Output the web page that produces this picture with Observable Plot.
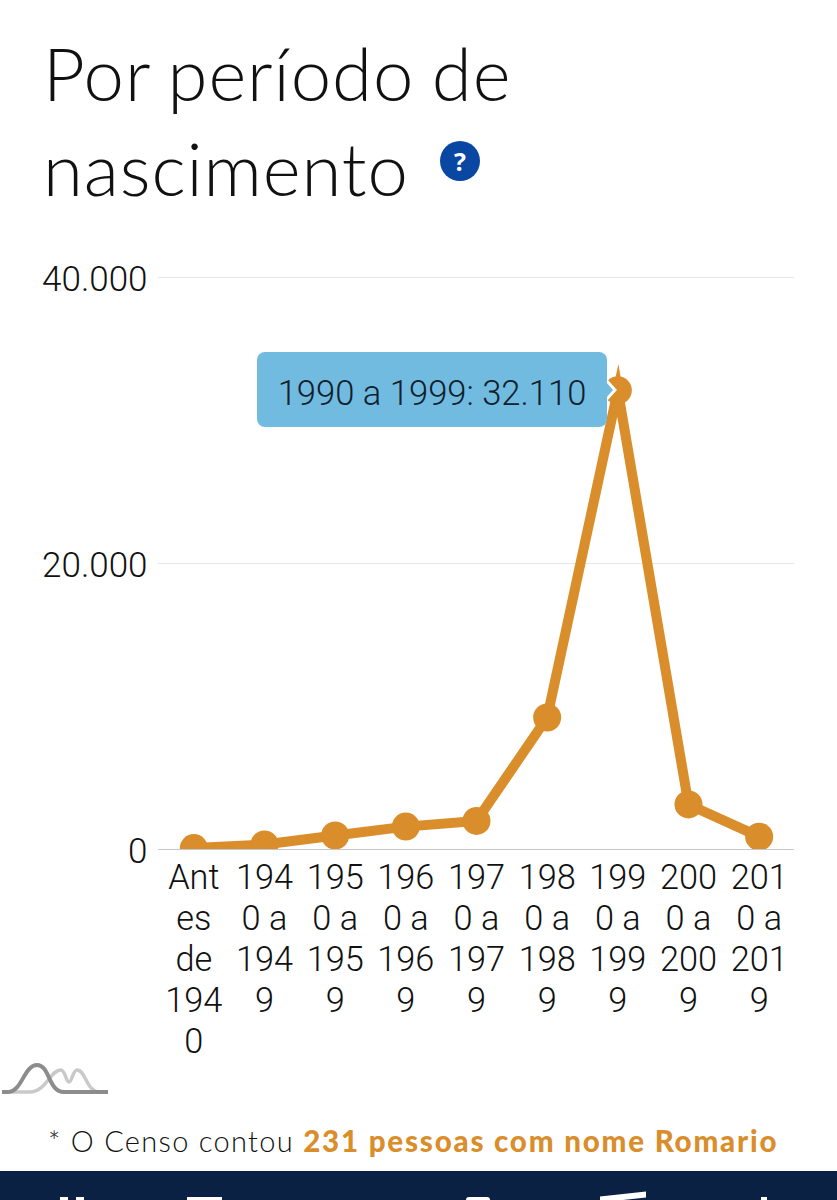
<!DOCTYPE html>
<html lang="pt-BR">
<head>
<meta charset="utf-8">
<script src="https://cdn.jsdelivr.net/npm/d3@7"></script>
<script src="https://cdn.jsdelivr.net/npm/@observablehq/plot@0.6"></script>
<style>
html,body{margin:0;padding:0;background:#fff;}
#page{position:relative;width:837px;height:1200px;overflow:hidden;font-family:Lato,sans-serif;color:#111;}
#title{position:absolute;left:43px;top:25px;margin:0;font-weight:300;font-size:72.5px;line-height:95px;letter-spacing:.9px;word-spacing:-3px;color:#111;white-space:nowrap;}
#help{position:absolute;left:440px;top:141px;width:40px;height:40px;border-radius:50%;background:#0a47a3;color:#fff;font:700 25px/40px "Open Sans",sans-serif;text-align:center;}
#chart{position:absolute;left:0;top:240px;}
#tip{position:absolute;left:257px;top:352px;width:350px;height:75px;border-radius:8px;background:#72bbe0;color:#10202c;font:300 34.6px/82px Roboto,sans-serif;text-align:center;}
#arrow{position:absolute;left:607px;top:379px;width:0;height:0;border-left:10px solid #fff;border-top:11px solid transparent;border-bottom:11px solid transparent;}
#arrow2{position:absolute;left:606px;top:382px;width:0;height:0;border-left:7px solid #72bbe0;border-top:8px solid transparent;border-bottom:8px solid transparent;}
#logo{position:absolute;left:0;top:1060px;}
#note{position:absolute;left:48px;top:1124px;font-size:29px;line-height:34px;font-weight:300;letter-spacing:1.3px;white-space:nowrap;color:#111;}
#note b{font-weight:900;color:#d98e2b;font-size:29.5px;letter-spacing:1.8px;}
#nav{position:absolute;left:0;top:1171px;width:837px;height:29px;background:#0a2144;}
.ni{position:absolute;background:#fff;}
</style>
</head>
<body>
<div id="page">
  <h1 id="title">Por período de<br>nascimento</h1>
  <div id="help">?</div>
  <div id="chart"></div>
  <div id="tip">1990 a 1999: 32.110</div>
  <div id="arrow"></div><div id="arrow2"></div>
  <svg id="logo" width="112" height="36" viewBox="0 0 112 36" fill="none" stroke-linecap="butt">
    <path d="M12 32H30C46 32 50 10 61 10C65 10 66 22 69 22C72 22 73 10 77 10C86 10 86 32 100 32" stroke="#c9c9c9" stroke-width="3.5"/>
    <path d="M2 32H8C22 32 24 5 37 5C50 5 48 32 64 32H108" stroke="#8c8c8c" stroke-width="4"/>
  </svg>
  <div id="note">* O Censo contou <b>231 pessoas com nome Romario</b></div>
  <div id="nav">
    <div class="ni" style="left:60px;top:26px;width:8px;height:3px"></div>
    <div class="ni" style="left:76px;top:26px;width:8px;height:3px"></div>
    <div class="ni" style="left:187px;top:26px;width:35px;height:3px"></div>
    <div class="ni" style="left:466px;top:26px;width:24px;height:3px;border-radius:12px 12px 0 0"></div>
    <div class="ni" style="left:600px;top:23px;width:46px;height:6px;transform:skewY(-6deg)"></div>
    <div class="ni" style="left:761px;top:26px;width:6px;height:3px"></div>
  </div>
</div>
<script>
const categories = ["Antes de 1940","1940 a 1949","1950 a 1959","1960 a 1969","1970 a 1979","1980 a 1989","1990 a 1999","2000 a 2009","2010 a 2019"];
const tickLabels = ["Ant\nes\nde\n194\n0","194\n0 a\n194\n9","195\n0 a\n195\n9","196\n0 a\n196\n9","197\n0 a\n197\n9","198\n0 a\n198\n9","199\n0 a\n199\n9","200\n0 a\n200\n9","201\n0 a\n201\n9"];
const people = [100,350,980,1600,2000,9230,32110,3150,900];
const yTicks = [0,20000,40000];

const orange = "#d98e2b";
const fmt = d3.formatLocale({decimal:",",thousands:".",grouping:[3],currency:["R$",""]}).format(",d");
const rows = categories.map((c,i)=>({c,v:people[i]}));
const labelOf = new Map(categories.map((c,i)=>[c,tickLabels[i]]));

const plot = Plot.plot({
  width:837,height:830,
  marginLeft:158,marginRight:43,marginTop:37,marginBottom:221,
  style:{fontFamily:"Roboto,sans-serif",background:"transparent",color:"#111"},
  x:{type:"point",domain:categories,padding:0.5,round:false,label:null},
  y:{domain:[0,40000],label:null},
  marks:[
    Plot.ruleY(yTicks.slice(1),{stroke:"#e6e6e6",strokeWidth:1}),
    Plot.ruleY([0],{stroke:"#c4c8cc",strokeWidth:1}),
    Plot.axisY({ticks:yTicks,tickSize:0,tickPadding:11,tickFormat:fmt,fontSize:35,fontWeight:300,label:null,fill:"#111",dy:2}),
    Plot.axisX({tickSize:0,tickPadding:11,tickFormat:d=>labelOf.get(d),fontSize:34.3,fontWeight:300,lineHeight:1.197,label:null,fill:"#111",lineAnchor:"top",dy:-1}),
    Plot.line(rows,{x:"c",y:"v",stroke:orange,strokeWidth:10,strokeLinejoin:"miter",strokeMiterlimit:6,strokeLinecap:"butt",clip:"frame"}),
    Plot.dot(rows,{x:"c",y:"v",r:14,fill:orange,clip:"frame"})
  ]
});
document.getElementById("chart").appendChild(plot);
</script>
</body>
</html>
